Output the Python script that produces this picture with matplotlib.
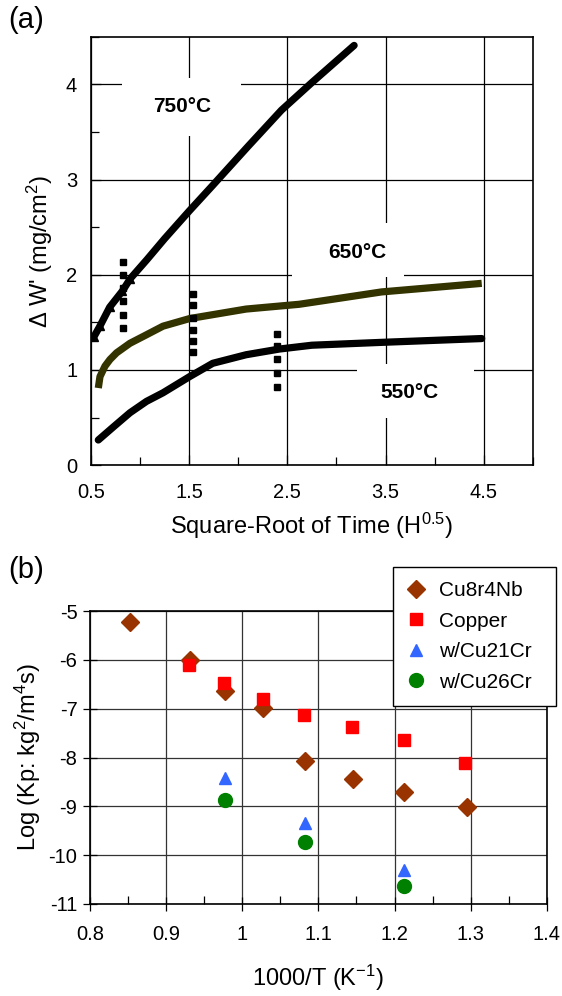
import matplotlib
matplotlib.use("Agg")
import matplotlib.pyplot as plt
from matplotlib.patches import Rectangle
from matplotlib.ticker import MultipleLocator, FuncFormatter

plt.rcParams['font.family'] = ['Liberation Sans', 'DejaVu Sans']
plt.rcParams['mathtext.fontset'] = 'custom'
plt.rcParams['mathtext.rm'] = 'Liberation Sans'
plt.rcParams['mathtext.it'] = 'Liberation Sans'
plt.rcParams['mathtext.bf'] = 'Liberation Sans:bold'
plt.rcParams['axes.unicode_minus'] = False

# (a) weight gain vs square-root of time
t750 = [0.53, 0.59, 0.69, 0.82, 0.9, 1.07, 1.25, 1.5, 1.74, 2.1, 2.44, 2.75, 3.18]
w750 = [1.35, 1.46, 1.66, 1.83, 1.96, 2.16, 2.38, 2.67, 2.94, 3.35, 3.73, 4.02, 4.41]
t650 = [0.574, 0.591, 0.642, 0.693, 0.76, 0.896, 1.065, 1.233, 1.504, 2.08, 2.62, 2.75, 3.46, 4.48]
w650 = [0.81, 0.93, 1.04, 1.11, 1.18, 1.28, 1.37, 1.46, 1.54, 1.64, 1.69, 1.71, 1.82, 1.91]
t550 = [0.574, 0.726, 0.896, 1.065, 1.233, 1.504, 1.74, 2.08, 2.42, 2.75, 3.46, 4.48]
w550 = [0.264, 0.40, 0.55, 0.67, 0.76, 0.93, 1.07, 1.16, 1.22, 1.26, 1.29, 1.33]

# dotted markers separating the growth stages
stage_t = [0.83, 1.54, 2.39]
stage_w = [[2.13, 2.0, 1.86, 1.72, 1.58, 1.44],
           [1.80, 1.68, 1.55, 1.42, 1.30, 1.19],
           [1.38, 1.25, 1.11, 0.97, 0.82]]

# (b) parabolic rate constants
x_nb = [0.852, 0.931, 0.977, 1.027, 1.082, 1.145, 1.213, 1.295]
kp_nb = [-5.23, -6.0, -6.64, -6.99, -8.08, -8.43, -8.70, -9.02]
x_cu = [0.930, 0.976, 1.027, 1.081, 1.144, 1.212, 1.293]
kp_cu = [-6.11, -6.48, -6.81, -7.12, -7.38, -7.65, -8.12]
x_cr = [0.977, 1.082, 1.213]
kp_cr21 = [-8.41, -9.35, -10.30]
kp_cr26 = [-8.86, -9.72, -10.63]

fmt = FuncFormatter(lambda v, p: '%g' % round(v, 2))

fig = plt.figure(figsize=(5.62, 9.96), dpi=100)

# ---- panel (a)
ax1 = fig.add_axes([0.162, 0.533, 0.786, 0.430])
ax1.set_axisbelow(True)
ax1.plot(t750, w750, color='black', lw=5.2, solid_capstyle='round', zorder=3)
ax1.plot(t750[:5], w750[:5], '^', color='black', ms=6, zorder=3)
ax1.plot(t650, w650, color='#333300', lw=5.2, solid_capstyle='butt', zorder=3)
ax1.plot(t550, w550, color='black', lw=5.2, solid_capstyle='round', zorder=3)
for t, ws in zip(stage_t, stage_w):
    ax1.plot([t] * len(ws), ws, 's', color='black', ms=4, zorder=4)

# white label boxes over the grid
for x0, y0, x1, y1 in [(0.82, 3.46, 2.03, 4.07), (2.55, 1.98, 3.69, 2.54), (3.21, 0.50, 4.40, 1.06)]:
    ax1.add_patch(Rectangle((x0, y0), x1 - x0, y1 - y0, facecolor='white', edgecolor='none', zorder=1))
ax1.text(1.43, 3.77, '750°C', fontsize=15, fontweight='bold', ha='center', va='center', zorder=5)
ax1.text(3.21, 2.23, '650°C', fontsize=15, fontweight='bold', ha='center', va='center', zorder=5)
ax1.text(3.74, 0.76, '550°C', fontsize=15, fontweight='bold', ha='center', va='center', zorder=5)

ax1.set_xlim(0.5, 5.0)
ax1.set_ylim(0, 4.5)
ax1.xaxis.set_minor_locator(MultipleLocator(0.5))
ax1.yaxis.set_major_locator(MultipleLocator(1))
ax1.yaxis.set_minor_locator(MultipleLocator(0.5))
ax1.set_xticks([0.5, 1.5, 2.5, 3.5, 4.5])
ax1.xaxis.set_major_formatter(fmt)
ax1.grid(True, which='major', color='black', lw=0.9)
ax1.tick_params(which='both', direction='in', labelsize=14.5, width=0.9, color='black')
ax1.tick_params(which='major', length=7)
ax1.tick_params(which='minor', length=6)
ax1.tick_params(axis='x', pad=13)
ax1.tick_params(axis='y', pad=10)
ax1.set_xlabel('Square-Root of Time (H$^{0.5}$)', fontsize=17, labelpad=6)
ax1.set_ylabel("Δ W' (mg/cm$^2$)", fontsize=17, labelpad=8)
for s in ax1.spines.values():
    s.set_linewidth(1.2)

# ---- panel (b)
ax2 = fig.add_axes([0.160, 0.0924, 0.813, 0.294])
ax2.set_axisbelow(True)
ax2.plot(x_nb, kp_nb, 'D', color='#993300', ms=9, label='Cu8r4Nb', zorder=3)
ax2.plot(x_cu, kp_cu, 's', color='#ff0000', ms=8, label='Copper', zorder=3)
ax2.plot(x_cr, kp_cr21, '^', color='#3366ff', ms=9, label='w/Cu21Cr', zorder=3)
ax2.plot(x_cr, kp_cr26, 'o', color='#008000', ms=10, label='w/Cu26Cr', zorder=3)
ax2.set_xlim(0.8, 1.4)
ax2.set_ylim(-11, -5)
ax2.xaxis.set_major_locator(MultipleLocator(0.1))
ax2.xaxis.set_minor_locator(MultipleLocator(0.05))
ax2.yaxis.set_major_locator(MultipleLocator(1))
ax2.xaxis.set_major_formatter(fmt)
ax2.yaxis.set_major_formatter(fmt)
ax2.grid(True, which='major', color='#333333', lw=0.9)
ax2.tick_params(which='major', direction='inout', length=10, labelsize=14.5, width=0.9)
ax2.tick_params(which='minor', direction='in', length=6, width=0.9)
ax2.tick_params(axis='x', pad=10)
ax2.tick_params(axis='y', pad=4)
ax2.set_xlabel('1000/T (K$^{-1}$)', fontsize=17, labelpad=14)
ax2.set_ylabel('Log (Kp: kg$^2$/m$^4$s)', fontsize=17, labelpad=4)
for s in ax2.spines.values():
    s.set_linewidth(1.2)

leg = ax2.legend(loc='upper left', bbox_to_anchor=(0.699, 0.286, 0.290, 0.145),
                 bbox_transform=fig.transFigure, mode='expand', borderaxespad=0,
                 fontsize=15, frameon=True, fancybox=False, framealpha=1,
                 edgecolor='black', handlelength=0.8, handletextpad=0.7,
                 labelspacing=0.55, borderpad=0.7)
leg.get_frame().set_linewidth(1.0)
leg.set_zorder(10)

fig.text(0.015, 0.980, '(a)', fontsize=21, ha='left', va='center')
fig.text(0.015, 0.428, '(b)', fontsize=21, ha='left', va='center')

fig.savefig('out.png', dpi=100, facecolor='white')
